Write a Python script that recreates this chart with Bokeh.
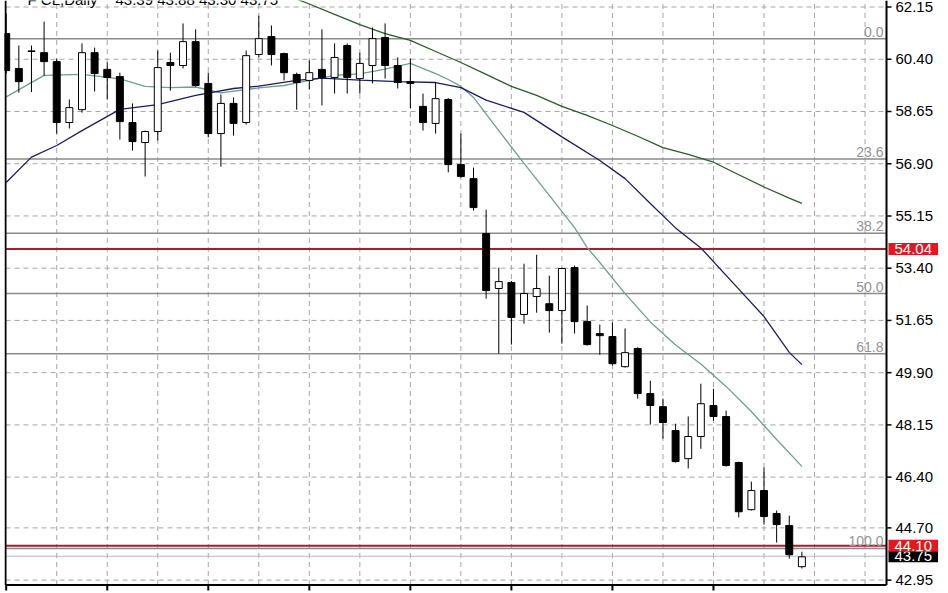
from bokeh.plotting import figure
from bokeh.models import Range1d, Label, ColumnDataSource
from bokeh.embed import file_html
from bokeh.resources import INLINE

# ---- daily candles ----
opens = [61.26, 60.09, 60.68, 60.62, 60.32, 58.28, 58.71, 60.62, 60.06, 59.82,
         58.28, 57.61, 57.98, 60.29, 60.19, 60.99, 59.59, 57.91, 58.92, 58.28,
         60.56, 61.16, 60.59, 59.89, 59.69, 60.06, 59.79, 60.86, 59.75, 60.19,
         61.13, 60.19, 59.65, 58.82, 58.25, 59.05, 56.87, 56.40, 54.56, 52.72,
         52.92, 51.85, 52.45, 52.21, 51.98, 53.42, 51.61, 51.21, 51.11, 50.10,
         50.71, 49.20, 48.76, 47.96, 47.02, 47.76, 48.80, 48.43, 46.89, 45.31,
         45.95, 45.18, 44.78, 43.40]
highs = [61.93, 60.86, 60.86, 61.66, 60.42, 59.05, 60.93, 60.79, 60.29, 59.95,
         58.92, 58.01, 60.69, 60.62, 61.60, 61.40, 59.95, 59.22, 59.12, 60.69,
         61.86, 61.53, 60.62, 59.95, 60.36, 61.40, 60.93, 60.93, 60.62, 61.46,
         61.60, 60.46, 60.42, 59.25, 59.62, 59.10, 57.91, 56.77, 55.36, 53.42,
         52.97, 53.55, 53.85, 53.15, 53.42, 53.49, 52.15, 51.51, 51.58, 51.38,
         50.75, 49.63, 49.03, 48.19, 48.43, 49.53, 49.36, 48.63, 46.92, 46.25,
         46.72, 45.28, 45.11, 43.90]
lows = [59.92, 59.28, 59.30, 59.85, 57.91, 58.08, 58.61, 59.32, 59.05, 57.71,
        57.34, 56.47, 57.68, 59.35, 60.09, 59.48, 57.78, 56.80, 57.84, 58.21,
        60.46, 60.19, 59.69, 58.71, 59.39, 58.85, 59.25, 59.25, 59.25, 59.59,
        59.75, 59.42, 58.75, 58.01, 57.91, 56.61, 56.43, 55.33, 52.38, 50.54,
        50.84, 51.54, 51.91, 51.24, 50.87, 51.21, 50.81, 50.50, 50.14, 50.07,
        49.03, 48.16, 47.69, 46.89, 46.69, 47.35, 48.29, 46.75, 45.05, 45.28,
        44.81, 44.21, 43.67, 43.34]
closes = [60.02, 59.65, 60.66, 60.32, 58.28, 58.78, 60.62, 59.92, 59.79, 58.31,
          57.64, 57.98, 60.12, 60.19, 60.99, 59.52, 57.91, 58.92, 58.25, 60.52,
          61.09, 60.56, 59.95, 59.62, 59.95, 59.79, 60.46, 59.79, 60.26, 61.09,
          60.19, 59.62, 59.59, 58.28, 59.08, 56.87, 56.47, 55.43, 52.65, 52.95,
          51.75, 52.55, 52.72, 51.98, 53.39, 51.61, 50.84, 51.14, 50.20, 50.57,
          49.20, 48.80, 48.23, 46.92, 47.76, 48.86, 48.43, 46.79, 45.24, 45.95,
          45.08, 44.81, 43.80, 43.73]
bar_index = list(range(len(opens)))

# ---- moving averages (bar index, price) ----
fast_ma_i = [0, 3, 6, 9, 11, 13, 15, 17, 20, 22, 24, 26, 28, 30, 32, 34, 35, 36, 37,
             39, 41, 43, 45, 46, 47, 49, 51, 53, 55, 57, 59, 61, 63]
fast_ma_v = [59.14, 59.86, 59.89, 59.74, 59.49, 59.45, 59.47, 59.27, 59.44, 59.52, 59.69,
             59.86, 59.91, 60.07, 60.26, 59.92, 59.72, 59.49, 59.12, 58.01, 56.91, 55.84,
             54.76, 54.09, 53.59, 52.55, 51.60, 50.83, 50.19, 49.44, 48.60, 47.66, 46.76]
mid_ma_i = [0, 2, 4, 6, 9, 12, 15, 18, 20, 23, 25, 28, 31, 34, 36, 38, 41, 44, 47, 49,
            51, 53, 55, 58, 60, 62, 63]
mid_ma_v = [56.27, 57.12, 57.51, 58.01, 58.72, 58.88, 59.19, 59.42, 59.50, 59.69, 59.77,
            59.70, 59.65, 59.62, 59.45, 59.03, 58.62, 57.80, 57.01, 56.40, 55.57, 54.75,
            54.08, 52.70, 51.78, 50.58, 50.17]
slow_ma_i = [22, 24, 26, 28, 30, 32, 34, 36, 38, 40, 42, 44, 46, 48, 50, 52, 54, 56, 58,
             60, 62, 63]
slow_ma_v = [62.58, 62.25, 61.90, 61.56, 61.26, 61.03, 60.66, 60.29, 59.89, 59.49, 59.19,
             58.82, 58.52, 58.18, 57.82, 57.44, 57.21, 56.95, 56.53, 56.12, 55.75, 55.57]

# ---- levels, ticks and texts ----
price_ticks = [62.15, 60.40, 58.65, 56.90, 55.15, 53.40, 51.65, 49.90, 48.15, 46.40, 44.70, 42.95]
price_tick_labels = ["62.15", "60.40", "58.65", "56.90", "55.15", "53.40", "51.65",
                     "49.90", "48.15", "46.40", "44.70", "42.95"]
date_tick_idx = [0, 8, 16, 24, 32, 40, 48, 56]
grid_idx = [4, 8, 12, 16, 20, 24, 28, 32, 36, 40, 44, 48, 52, 56, 60, 64, 68]
fib_labels = ["0.0", "23.6", "38.2", "50.0", "61.8", "100.0"]
fib_prices = [61.09, 57.06, 54.57, 52.55, 50.53, 44.01]
red_levels = [54.04, 44.10]
red_texts = ["54.04", "44.10"]
bid_price = 43.75
bid_text = "43.75"
title_symbol = "F CL,Daily"
title_ohlc = "43.39 43.88 43.30 43.75"

FONT = "Liberation Sans"

# pixel <-> data helpers for chart furniture (bar 0 at px 5.7, 12.63 px per bar;
# price 62.15 at px 6.5, 29.85 px per price unit)
def xi(px):
    return (px - 5.7) / 12.63

def yp(py):
    return 62.15 - (py - 6.5) / 29.85

W, H = 948, 593
p = figure(width=W, height=H, output_backend="svg", toolbar_location=None,
           x_range=Range1d(xi(4), xi(W)), y_range=Range1d(yp(H), yp(0)),
           x_axis_location=None, y_axis_location=None,
           min_border_left=4, min_border_right=0, min_border_top=0, min_border_bottom=0,
           background_fill_color="white", border_fill_color="white",
           outline_line_color=None)
p.xgrid.visible = False
p.ygrid.visible = False

AX_R = xi(886)      # right price-axis line
AX_B = yp(584.5)    # bottom time-axis line
BORDER_L = xi(5)    # left window border
TOP = yp(0)

# dashed grid
p.segment(x0=grid_idx, y0=[AX_B] * len(grid_idx), x1=grid_idx, y1=[TOP] * len(grid_idx),
          line_color="#a6a6a6", line_dash="5 4", line_width=1)
p.segment(x0=[BORDER_L] * len(price_ticks), y0=price_ticks, x1=[AX_R] * len(price_ticks),
          y1=price_ticks, line_color="#a6a6a6", line_dash="5 4", line_width=1)

# fibonacci levels
p.segment(x0=[BORDER_L] * len(fib_prices), y0=fib_prices, x1=[AX_R] * len(fib_prices),
          y1=fib_prices, line_color="#8a8a8a", line_width=1.5)
for lab, lvl in zip(fib_labels, fib_prices):
    p.add_layout(Label(x=xi(883), y=lvl, text=lab, text_align="right",
                       text_baseline="bottom", y_offset=2, text_font=FONT,
                       text_font_size="14px", text_color="#939393"))

# bid line and horizontal red lines
p.segment(x0=[BORDER_L], y0=[bid_price], x1=[AX_R], y1=[bid_price],
          line_color="#b3b7cc", line_width=1)
p.segment(x0=[BORDER_L] * len(red_levels), y0=red_levels, x1=[AX_R] * len(red_levels),
          y1=red_levels, line_color="#a51d2f", line_width=2)

# moving averages
p.line(fast_ma_i, fast_ma_v, line_color="#6f9f8e", line_width=1.3)
p.line(mid_ma_i, mid_ma_v, line_color="#1d1d5c", line_width=1.3)
p.line(slow_ma_i, slow_ma_v, line_color="#2c5a2c", line_width=1.3)

# candles
up = [i for i in bar_index if closes[i] >= opens[i]]
dn = [i for i in bar_index if closes[i] < opens[i]]
src_up = ColumnDataSource(dict(x=up, top=[closes[i] for i in up], bottom=[opens[i] for i in up]))
src_dn = ColumnDataSource(dict(x=dn, top=[opens[i] for i in dn], bottom=[closes[i] for i in dn]))
p.segment(x0=bar_index, y0=lows, x1=bar_index, y1=highs, line_color="black", line_width=1)
p.vbar(x="x", width=0.55, top="top", bottom="bottom", source=src_up,
       fill_color="white", line_color="black", line_width=1)
p.vbar(x="x", width=0.55, top="top", bottom="bottom", source=src_dn,
       fill_color="black", line_color="black", line_width=1)

# window border and axes lines
p.segment(x0=[BORDER_L], y0=[AX_B], x1=[BORDER_L], y1=[TOP], line_color="black", line_width=2)
p.segment(x0=[BORDER_L], y0=[AX_B], x1=[AX_R], y1=[AX_B], line_color="black", line_width=2)
p.segment(x0=[AX_R], y0=[AX_B], x1=[AX_R], y1=[TOP], line_color="black", line_width=2)
# right ticks + labels
p.segment(x0=[AX_R] * len(price_ticks), y0=price_ticks, x1=[xi(891)] * len(price_ticks),
          y1=price_ticks, line_color="black", line_width=1.5)
for t, lab in zip(price_ticks, price_tick_labels):
    p.add_layout(Label(x=xi(895), y=t, text=lab, text_align="left", text_baseline="middle",
                       text_font=FONT, text_font_size="15px", text_color="black"))
# bottom ticks
p.segment(x0=date_tick_idx, y0=[AX_B] * len(date_tick_idx), x1=date_tick_idx,
          y1=[yp(590)] * len(date_tick_idx), line_color="black", line_width=2)

# price tags on the right axis
pad = dict(left=6, right=6, top=1, bottom=1)
p.add_layout(Label(x=xi(888), y=bid_price, text=bid_text, text_align="left",
                   text_baseline="middle", text_font=FONT, text_font_size="15px",
                   text_color="white", background_fill_color="black", padding=pad))
for lvl, txt in zip(red_levels, red_texts):
    p.add_layout(Label(x=xi(888), y=lvl, text=txt, text_align="left",
                       text_baseline="middle", text_font=FONT, text_font_size="15px",
                       text_color="white", background_fill_color="#e3171d", padding=pad))

# chart title (cut by the top edge, as in the picture)
p.add_layout(Label(x=xi(27), y=yp(-1), text=title_symbol, text_align="left",
                   text_baseline="alphabetic", text_font=FONT, text_font_size="15px",
                   text_color="black"))
p.add_layout(Label(x=xi(115), y=yp(-1), text=title_ohlc, text_align="left",
                   text_baseline="alphabetic", text_font=FONT, text_font_size="15px",
                   text_color="black"))

open("out.html", "w").write(file_html(p, INLINE))
